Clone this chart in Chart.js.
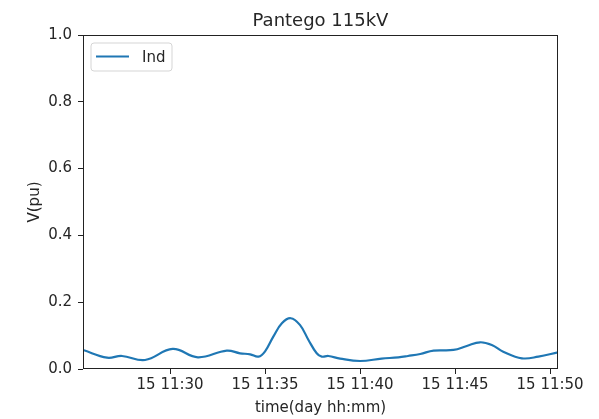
<!DOCTYPE html>
<html>
<head>
<meta charset="utf-8">
<script src="https://cdn.jsdelivr.net/npm/chart.js@4/dist/chart.umd.min.js"></script>
<style>
  html, body { margin: 0; padding: 0; background: #fff; }
  #wrap { width: 599px; height: 419px; }
</style>
</head>
<body>
<div id="wrap"><canvas id="c" width="599" height="419"></canvas></div>
<script>
// Bus voltage for Pantego 115kV, day 15
const chartTitle = 'Pantego 115kV';
const seriesName = 'Ind';
const day = 15;
const times = [
  '11:25:25', '11:26:41', '11:27:28', '11:28:41', '11:30:08', '11:31:28',
  '11:32:59', '11:33:41', '11:34:13', '11:34:39', '11:35:00', '11:35:26',
  '11:35:53', '11:36:21', '11:36:50', '11:37:17', '11:37:43', '11:37:59',
  '11:38:20', '11:38:57', '11:40:00', '11:41:08', '11:42:01', '11:42:31',
  '11:43:10', '11:43:52', '11:44:55', '11:45:37', '11:46:19', '11:46:56',
  '11:47:32', '11:48:31', '11:49:23', '11:50:25'
];
const voltages = [
  0.057, 0.034, 0.039, 0.027, 0.060, 0.035,
  0.055, 0.047, 0.044, 0.037, 0.053, 0.097,
  0.137, 0.152, 0.132, 0.087, 0.047, 0.037,
  0.039, 0.031, 0.024, 0.031, 0.035, 0.039,
  0.045, 0.055, 0.057, 0.069, 0.080, 0.072,
  0.052, 0.032, 0.037, 0.050
];
const xTickTimes = ['11:30', '11:35', '11:40', '11:45', '11:50'];
const yTicks = [0.0, 0.2, 0.4, 0.6, 0.8, 1.0];

// minutes since midnight
function toMinutes(t) {
  const p = t.split(':').map(Number);
  return p[0] * 60 + p[1] + (p[2] || 0) / 60;
}
function fmtTime(m) {
  const h = Math.floor(m / 60);
  const mm = Math.round(m - h * 60);
  return day + ' ' + h + ':' + String(mm).padStart(2, '0');
}

const points = times.map((t, i) => ({ x: toMinutes(t), y: voltages[i] }));
const xTickVals = xTickTimes.map(toMinutes);

const FONT = 'DejaVu Sans';
const INK = '#262626';
const SPINE = '#222222';
const LINE = '#1f77b4';

const framePlugin = {
  id: 'frame',
  afterDatasetsDraw(chart) {
    const { ctx, chartArea: a } = chart;
    ctx.save();
    ctx.strokeStyle = SPINE;
    ctx.lineWidth = 1;
    ctx.strokeRect(Math.round(a.left) + 0.5, Math.round(a.top) + 0.5,
      Math.round(a.right - a.left) - 1, Math.round(a.bottom - a.top) - 1);
    ctx.restore();
  },
  afterDraw(chart) {
    const { ctx, chartArea: a } = chart;
    ctx.save();
    // title
    ctx.fillStyle = INK;
    ctx.font = '18px "' + FONT + '"';
    ctx.textAlign = 'center';
    ctx.textBaseline = 'alphabetic';
    ctx.fillText(chartTitle, (a.left + a.right) / 2, 26);
    // axis titles
    ctx.font = '15px "' + FONT + '"';
    ctx.fillText('time(day hh:mm)', (a.left + a.right) / 2, 412);
    ctx.save();
    ctx.translate(39, (a.top + a.bottom) / 2);
    ctx.rotate(-Math.PI / 2);
    ctx.fillText('V(pu)', 0, 0);
    ctx.restore();
    // legend box
    const ds = chart.data.datasets[0];
    const bx = a.left + 8, by = a.top + 8, bw = 81, bh = 28, r = 3;
    ctx.beginPath();
    ctx.moveTo(bx + r, by);
    ctx.arcTo(bx + bw, by, bx + bw, by + bh, r);
    ctx.arcTo(bx + bw, by + bh, bx, by + bh, r);
    ctx.arcTo(bx, by + bh, bx, by, r);
    ctx.arcTo(bx, by, bx + bw, by, r);
    ctx.closePath();
    ctx.fillStyle = 'rgba(255,255,255,0.8)';
    ctx.fill();
    ctx.strokeStyle = '#d5d5d5';
    ctx.lineWidth = 1;
    ctx.stroke();
    ctx.beginPath();
    ctx.strokeStyle = ds.borderColor;
    ctx.lineWidth = 2;
    ctx.moveTo(bx + 5, by + 13.5);
    ctx.lineTo(bx + 38, by + 13.5);
    ctx.stroke();
    ctx.fillStyle = INK;
    ctx.textAlign = 'left';
    ctx.font = '15px "' + FONT + '"';
    ctx.fillText(ds.label, bx + 51, by + 19);
    ctx.restore();
  }
};

new Chart(document.getElementById('c'), {
  type: 'line',
  data: {
    datasets: [{
      label: seriesName,
      data: points,
      borderColor: LINE,
      backgroundColor: LINE,
      borderWidth: 2.2,
      pointRadius: 0,
      fill: false,
      tension: 0.4
    }]
  },
  options: {
    responsive: false,
    animation: false,
    devicePixelRatio: 1,
    layout: { padding: { left: 0, top: 35, right: 41, bottom: 0 } },
    plugins: { legend: { display: false }, title: { display: false }, tooltip: { enabled: false } },
    scales: {
      x: {
        type: 'linear',
        min: points[0].x,
        max: points[points.length - 1].x,
        afterBuildTicks(scale) { scale.ticks = xTickVals.map(v => ({ value: v })); },
        afterFit(scale) { scale.height = 50; },
        ticks: {
          callback: v => fmtTime(v),
          color: INK,
          font: { family: FONT, size: 15 },
          padding: 2,
          maxRotation: 0,
          autoSkip: false
        },
        grid: { display: true, drawOnChartArea: false, drawTicks: true, tickLength: 5, color: SPINE },
        border: { display: false }
      },
      y: {
        min: 0,
        max: 1,
        afterBuildTicks(scale) { scale.ticks = yTicks.map(v => ({ value: v })); },
        afterFit(scale) { scale.width = 83; },
        ticks: {
          callback: v => v.toFixed(1),
          color: INK,
          font: { family: FONT, size: 15 },
          padding: 6
        },
        grid: { display: true, drawOnChartArea: false, drawTicks: true, tickLength: 5, color: SPINE },
        border: { display: false }
      }
    }
  },
  plugins: [framePlugin]
});
</script>
</body>
</html>
